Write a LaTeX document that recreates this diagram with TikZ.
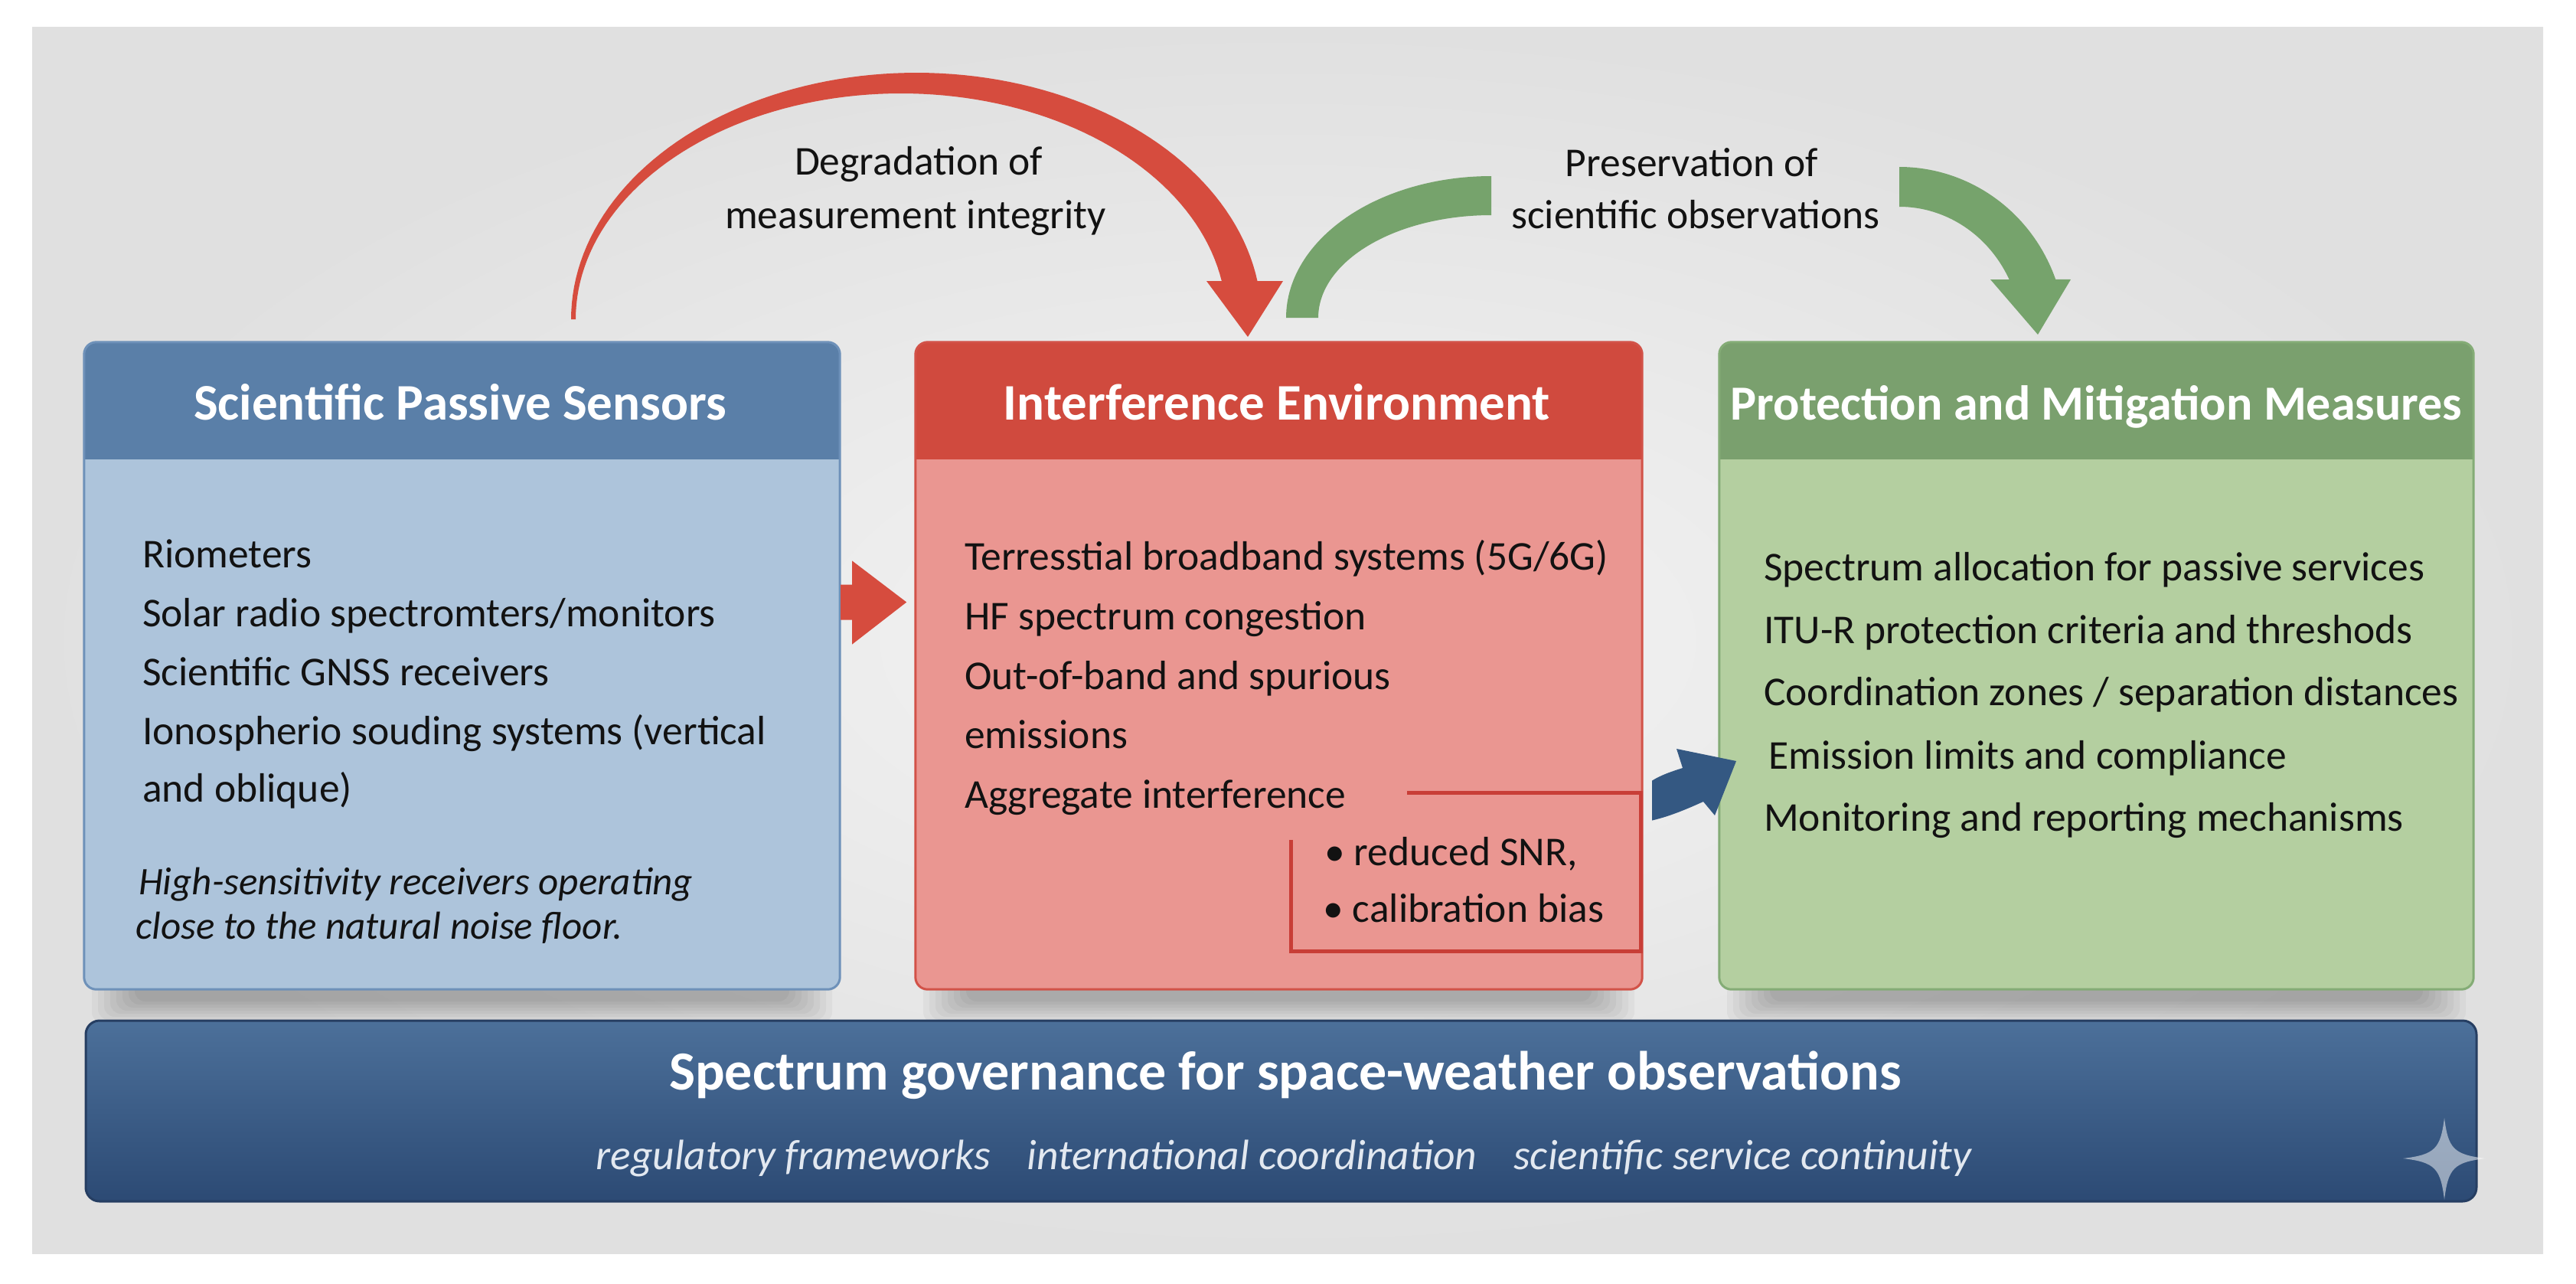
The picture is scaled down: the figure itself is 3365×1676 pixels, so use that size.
\documentclass[tikz,border=0pt]{standalone}
\usepackage{fontspec}
\setmainfont{Carlito}
\usetikzlibrary{calc}
\definecolor{bgc}{RGB}{224,224,224}
\definecolor{bgin}{RGB}{244,244,244}
\definecolor{bluehead}{RGB}{90,127,168}
\definecolor{bluebody}{RGB}{173,196,219}
\definecolor{blueedge}{RGB}{110,145,185}
\definecolor{redhead}{RGB}{208,74,62}
\definecolor{redbody}{RGB}{234,150,145}
\definecolor{rededge}{RGB}{210,82,72}
\definecolor{greenhead}{RGB}{122,160,110}
\definecolor{greenbody}{RGB}{180,207,160}
\definecolor{greenedge}{RGB}{132,172,118}
\definecolor{arrowred}{RGB}{214,76,62}
\definecolor{arrowgreen}{RGB}{118,163,108}
\definecolor{arrowblue}{RGB}{52,88,130}
\definecolor{banTop}{RGB}{76,112,154}
\definecolor{banBot}{RGB}{44,74,116}
\definecolor{banEdge}{RGB}{38,62,98}
\definecolor{bracketred}{RGB}{200,62,55}
\definecolor{textc}{RGB}{18,18,18}
\definecolor{subc}{RGB}{226,232,240}
\newcommand\boxshadow[2]{\foreach \k in {0,...,7}{\fill[black,opacity=0.035,rounded corners=14pt] ({#1+10+8*\k},1270) rectangle ({#2-10-8*\k},{1336-4*\k});}}
\tikzset{
  panel/.style={inner sep=0pt, minimum height=845pt, rounded corners=16pt},
  headtxt/.style={anchor=base, inner sep=0pt, text=white, font=\bfseries\fontsize{67}{72}\selectfont},
  bodytxt/.style={anchor=base west, inner sep=0pt, text=textc, font=\fontsize{53.5}{60}\selectfont},
  ittxt/.style={anchor=base west, inner sep=0pt, text=textc, font=\itshape\fontsize{51}{56}\selectfont},
  labtxt/.style={anchor=base, inner sep=0pt, text=textc, font=\fontsize{53.5}{60}\selectfont},
  edge/.style={line width=3pt, rounded corners=16pt}
}
\begin{document}
\begin{tikzpicture}[x=1pt,y=1pt,yscale=-1]
\useasboundingbox (0,0) rectangle (3365,1676);
\fill[white] (0,0) rectangle (3365,1676);
\shade[inner color=bgin, outer color=bgc] (42,35) rectangle (3322,1637);

% shadows
\boxshadow{110}{1097}
\boxshadow{1196}{2145}
\boxshadow{2246}{3231}

% boxes
\node[panel, fill=bluebody, minimum width=987pt] (sens) at (603.5,869.5) {};
\node[panel, fill=redbody, minimum width=949pt] (intf) at (1670.5,869.5) {};
\node[panel, fill=greenbody, minimum width=985pt] (prot) at (2738.5,869.5) {};

\begin{scope}
\clip[rounded corners=16pt] (sens.north west) rectangle (sens.south east);
\fill[bluehead] (sens.north west) rectangle ($(sens.north east)+(0,153)$);
\end{scope}
\begin{scope}
\clip[rounded corners=16pt] (intf.north west) rectangle (intf.south east);
\fill[redhead] (intf.north west) rectangle ($(intf.north east)+(0,153)$);
\end{scope}
\begin{scope}
\clip[rounded corners=16pt] (prot.north west) rectangle (prot.south east);
\fill[greenhead] (prot.north west) rectangle ($(prot.north east)+(0,153)$);
\end{scope}
\draw[edge, blueedge] (sens.north west) rectangle (sens.south east);
\draw[edge, rededge] (intf.north west) rectangle (intf.south east);
\draw[edge, greenedge] (prot.north west) rectangle (prot.south east);

% headers
\node[headtxt] (sensT) at (601,548) {Scientific Passive Sensors};
\node[headtxt] (intfT) at (1668,548) {Interference Environment};
\node[headtxt, font=\bfseries\fontsize{64}{68}\selectfont] (protT) at (2738.5,548) {Protection and Mitigation Measures};

% blue box text
\node[bodytxt] (s1) at (186,741) {Riometers};
\node[bodytxt] (s2) at (186,818) {Solar radio spectromters/monitors};
\node[bodytxt] (s3) at (186,895) {Scientific GNSS receivers};
\node[bodytxt] (s4) at (186,972) {Ionospherio souding systems (vertical};
\node[bodytxt] (s5) at (186,1047) {and oblique)};
\node[ittxt] (s6) at (181,1168) {High-sensitivity receivers operating};
\node[ittxt] (s7) at (177,1226) {close to the natural noise floor.};

% red box text
\node[bodytxt] (i1) at (1260,744) {Terresstial broadband systems (5G/6G)};
\node[bodytxt] (i2) at (1260,822) {HF spectrum congestion};
\node[bodytxt] (i3) at (1260,900) {Out-of-band and spurious};
\node[bodytxt] (i4) at (1260,977) {emissions};
\node[bodytxt] (i5) at (1260,1055) {Aggregate interference};
\node[bodytxt] (i6) at (1730,1130) {• reduced SNR,};
\node[bodytxt] (i7) at (1728,1204) {• calibration bias};
\draw[bracketred, line width=5pt] (1838,1035) -- (2143,1035) -- (2143,1242) -- (1686,1242) -- (1686,1097);

% green box text
\node[bodytxt] (p1) at (2304,758) {Spectrum allocation for passive services};
\node[bodytxt] (p2) at (2304,840) {ITU-R protection criteria and threshods};
\node[bodytxt] (p3) at (2304,921) {Coordination zones / separation distances};
\node[bodytxt] (p4) at (2310,1004) {Emission limits and compliance};
\node[bodytxt] (p5) at (2304,1085) {Monitoring and reporting mechanisms};

% red arc: sensors -> interference
\fill[arrowred] plot[domain=180:351.07, samples=90, variable=\t] ({1197+451*cos(\t)},{417+322*sin(\t)})
  -- (1676,367) -- (1630,440) -- (1576,367) -- (1596,367)
  -- plot[domain=350.24:180, samples=90, variable=\t] ({1177+425*cos(\t)},{417+295*sin(\t)}) -- cycle;
\node[labtxt] (degr1) at (1200,228) {Degradation of};
\node[labtxt] (degr2) at (1196,298) {measurement integrity};

% green arcs: interference -> protection
\fill[arrowgreen] plot[domain=180:270, samples=60, variable=\t] ({1948+268*cos(\t)},{415+185*sin(\t)})
  -- plot[domain=270:180, samples=60, variable=\t] ({1948+226*cos(\t)},{415+134*sin(\t)}) -- cycle;
\fill[arrowgreen] plot[domain=270:340.2, samples=60, variable=\t] ({2481+217*cos(\t)},{440+222*sin(\t)})
  -- (2705,365) -- (2662,437) -- (2600,365) -- (2625,365)
  -- plot[domain=333.8:270, samples=60, variable=\t] ({2481+160*cos(\t)},{440+170*sin(\t)}) -- cycle;
\node[labtxt] (pres1) at (2210,230) {Preservation of};
\node[labtxt] (pres2) at (2215,298) {scientific observations};

% straight red arrow: sensors -> interference
\coordinate (ra) at ($(sens.east)+(1,-83)$);
\fill[arrowred] (ra) ++(0,-23) -- ++(15,0) -- ++(0,-31) -- ++(71,54) -- ++(-71,55) -- ++(0,-32) -- ++(-15,0) -- cycle;

% curved blue arrow: interference -> protection
\coordinate (ba) at ($(intf.east)+(13,202)$);
\fill[arrowblue] (ba) -- ++(0,-52) .. controls (2172,1011) and (2186,1007) .. (2198,1003)
  -- (2190,978) -- (2268,994) -- (2240,1065) -- (2225,1047)
  .. controls (2205,1056) and (2182,1066) .. (ba) -- cycle;

% governance banner
\node[inner sep=0pt, minimum width=3123pt, minimum height=236pt, rounded corners=18pt,
  top color=banTop, bottom color=banBot, draw=banEdge, line width=3pt] (gov) at (1673.5,1451) {};
\node[anchor=base, inner sep=0pt, text=white, font=\bfseries\fontsize{72}{80}\selectfont] (govT) at (1679,1423) {Spectrum governance for space-weather observations};
\node[anchor=base, inner sep=0pt, text=subc, font=\itshape\fontsize{55.5}{60}\selectfont] (govS) at (1677,1527) {regulatory frameworks\hspace{48pt}international coordination\hspace{48pt}scientific service continuity};

% sparkle mark
\fill[white, opacity=0.5] (3193,1460) .. controls (3198,1500) and (3205,1508) .. (3247,1513)
  .. controls (3205,1518) and (3198,1526) .. (3193,1567)
  .. controls (3188,1526) and (3181,1518) .. (3139,1513)
  .. controls (3181,1508) and (3188,1500) .. (3193,1460) -- cycle;
\end{tikzpicture}
\end{document}
